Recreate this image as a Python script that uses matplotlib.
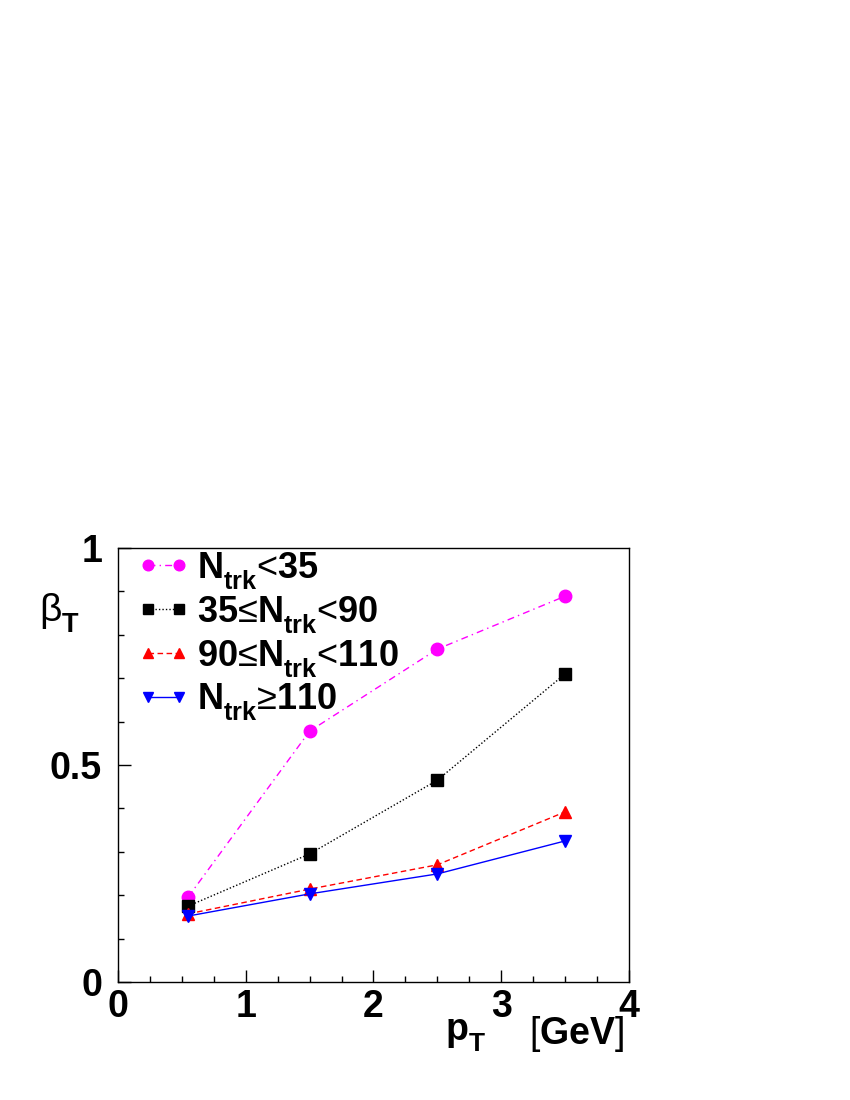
import matplotlib
matplotlib.use("Agg")
import matplotlib.pyplot as plt
import matplotlib._mathtext as mathtext_internal
from matplotlib.ticker import MultipleLocator

plt.rcParams["font.family"] = ["Liberation Sans", "DejaVu Sans"]
plt.rcParams["mathtext.fontset"] = "custom"
plt.rcParams["mathtext.rm"] = "Liberation Sans:bold"
plt.rcParams["mathtext.it"] = "Liberation Sans:bold"
plt.rcParams["mathtext.bf"] = "Liberation Sans:bold"
plt.rcParams["mathtext.sf"] = "Liberation Sans"
# ROOT drops subscripts lower than matplotlib does
mathtext_internal.FontConstantsBase.sub1 = 0.55

PT = [0.55, 1.5, 2.5, 3.5]
BETA_LOW = [0.196, 0.578, 0.767, 0.889]
BETA_MID = [0.175, 0.295, 0.465, 0.710]
BETA_HIGH = [0.157, 0.214, 0.270, 0.392]
BETA_TOP = [0.152, 0.203, 0.249, 0.325]

# bold parts in math, relation signs as plain (regular weight) text
LABELS = [
    r"$\mathrm{N_{trk}}$<$\mathrm{35}$",
    r"$\mathrm{35}$≤$\mathrm{N_{trk}}$<$\mathrm{90}$",
    r"$\mathrm{90}$≤$\mathrm{N_{trk}}$<$\mathrm{110}$",
    r"$\mathrm{N_{trk}}$≥$\mathrm{110}$",
]
X_TICKS = [0, 1, 2, 3, 4]
Y_TICKS = [0, 0.5, 1]
Y_TICK_LABELS = ["0", "0.5", "1"]

fig = plt.figure(figsize=(8.5, 11), dpi=100)
ax = fig.add_axes([0.1388, 0.1073, 0.6012, 0.3945])

# (values, colour, marker, line style, marker size)
series = [
    (BETA_LOW, "#ff00ff", "o", (0, (5, 3, 1, 3)), 9),
    (BETA_MID, "black", "s", (0, (1, 1.5)), 8),
    (BETA_HIGH, "red", "^", (0, (4, 2.5)), 9),
    (BETA_TOP, "blue", "v", "-", 9),
]

handles = []
for (vals, color, marker, ls, ms), label in zip(series, LABELS):
    h, = ax.plot(PT, vals, color=color, marker=marker, linestyle=ls, linewidth=1.0,
                 markersize=ms, markeredgecolor=color, label=label)
    handles.append(h)

ax.set_xlim(0, 4)
ax.set_ylim(0, 1)
ax.xaxis.set_minor_locator(MultipleLocator(0.25))
ax.yaxis.set_minor_locator(MultipleLocator(0.1))
ax.set_xticks(X_TICKS)
ax.set_xticklabels([str(t) for t in X_TICKS])
ax.set_yticks(Y_TICKS)
ax.set_yticklabels(Y_TICK_LABELS)
ax.tick_params(axis="both", which="both", direction="in", top=False, right=False,
               labelsize=27, width=1.0)
ax.tick_params(axis="both", which="major", length=9)
ax.tick_params(axis="both", which="minor", length=4.5)
ax.tick_params(axis="x", which="major", pad=5)
ax.tick_params(axis="y", which="major", pad=11.5)
for lab in ax.get_xticklabels() + ax.get_yticklabels():
    lab.set_fontweight("bold")
for sp in ax.spines.values():
    sp.set_linewidth(1.0)

ax.text(-0.114, 0.85, r"$\mathsf{\beta}_\mathrm{T}$", transform=ax.transAxes, fontsize=28,
        ha="center", va="center", fontweight="bold")
ax.text(0.68, -0.125, r"$\mathrm{p_T}$", transform=ax.transAxes, fontsize=27,
        ha="center", va="center", fontweight="bold")
ax.text(0.99, -0.12, r"$\mathsf{[}$GeV$\mathsf{]}$", transform=ax.transAxes, fontsize=27,
        ha="right", va="center", fontweight="bold")

ax.legend(handles=handles, loc="upper left", bbox_to_anchor=(0.0, 1.04),
          frameon=False, numpoints=2, handlelength=1.46, handletextpad=0.2,
          labelspacing=0.08, borderaxespad=0.25, borderpad=0.28, markerscale=0.85,
          prop={"weight": "normal", "size": 26})

fig.savefig("out.png", dpi=100)
